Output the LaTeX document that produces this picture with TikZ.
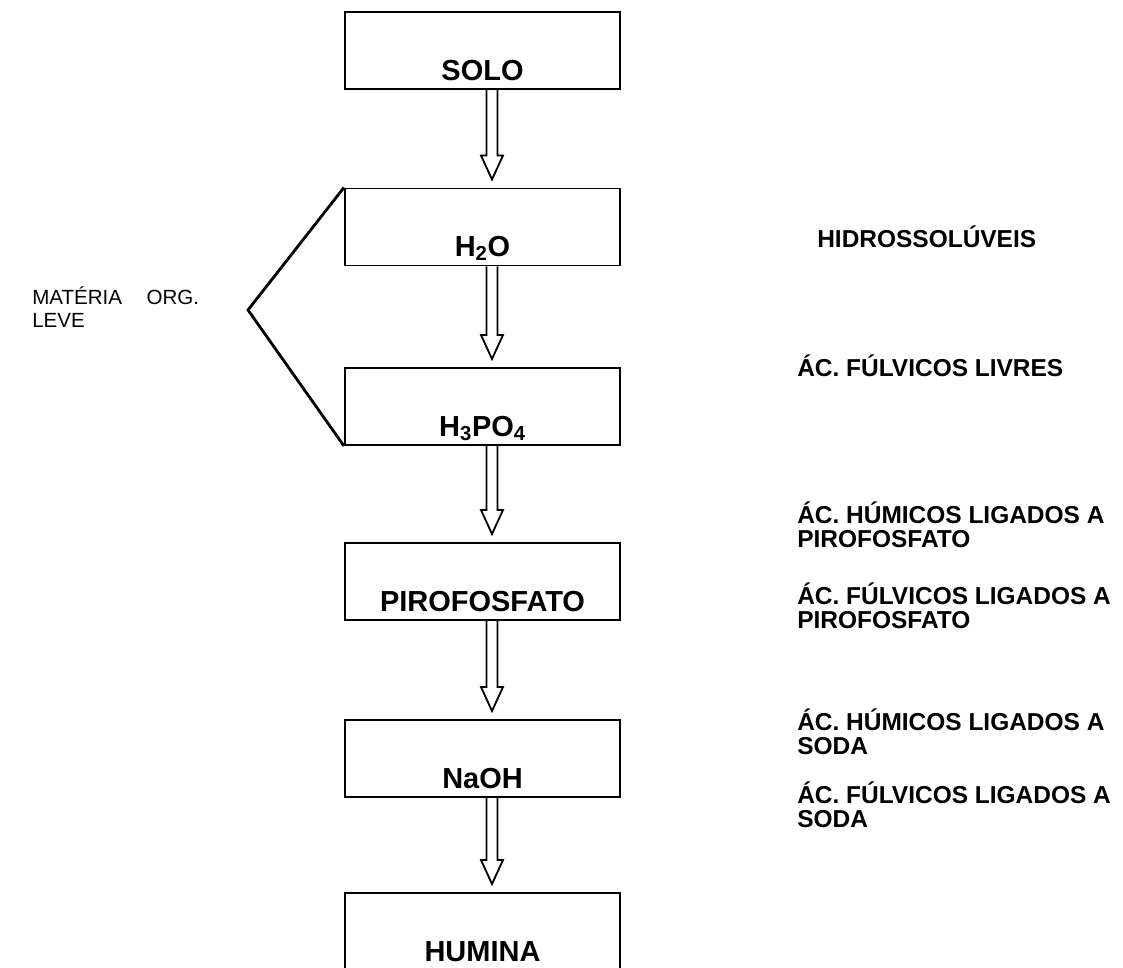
\documentclass[tikz,border=0pt]{standalone}
\usepackage{fontspec}
\setmainfont{Liberation Sans}
\usetikzlibrary{calc}

\begin{document}
\begin{tikzpicture}[x=0.025cm,y=-0.025cm,
    caixa/.style={draw,line width=1.4pt,minimum width=6.875cm,minimum height=1.925cm,
      inner sep=0pt,text height=1.475cm,text depth=0pt,
      font=\fontsize{20.6}{24}\selectfont\bfseries},
    fracao/.style={anchor=west,align=left,inner sep=0pt,
      font=\fontsize{17.4}{17.1}\selectfont\bfseries},
    seta/.style={line width=1.3pt,line join=miter}]
  \useasboundingbox (0,0) rectangle (1123,967);
  \newcommand{\passo}[2]{% from box, to box
    \draw[seta] ($(#1.south)+(4,0)$) -- ($(#2.north)+(4,-32)$) -- ($(#2.north)+(-1.5,-32)$)
      -- ($(#2.north)+(9.5,-8)$) -- ($(#2.north)+(20.5,-32)$) -- ($(#2.north)+(15,-32)$)
      -- ($(#1.south)+(15,0)$);}

  % extraction steps
  \node[caixa] (solo) at (482.5,50.5) {SOLO};
  \node[caixa] (agua) at (482.5,227) {H\textsubscript{2}O};
  \node[caixa] (acido) at (482.5,406.5) {H\textsubscript{3}PO\textsubscript{4}};
  \node[caixa] (piro) at (482.5,581.5) {PIROFOSFATO};
  \node[caixa] (soda) at (482.5,758.5) {NaOH};
  \node[caixa] (humina) at (482.5,931.5) {HUMINA};
  \passo{solo}{agua}
  \passo{agua}{acido}
  \passo{acido}{piro}
  \passo{piro}{soda}
  \passo{soda}{humina}

  % light organic matter
  \coordinate (vertice) at (248,310);
  \draw[line width=2pt] (agua.north west) -- (vertice) -- (acido.south west);
  \node[anchor=west,align=left,inner sep=0pt,font=\fontsize{14.6}{16.4}\selectfont] (leve)
    at (32,307) {MATÉRIA\hspace{1.2em}ORG.\\LEVE};

  % fractions
  \node[fracao] (hidro) at (817,237) {HIDROSSOLÚVEIS};
  \node[fracao] (livres) at (797,366) {ÁC. FÚLVICOS LIVRES};
  \node[fracao] (humpiro) at (797,525) {ÁC. HÚMICOS LIGADOS A\\PIROFOSFATO};
  \node[fracao] (fulpiro) at (797,606) {ÁC. FÚLVICOS LIGADOS A\\PIROFOSFATO};
  \node[fracao] (humsoda) at (797,732) {ÁC. HÚMICOS LIGADOS A\\SODA};
  \node[fracao] (fulsoda) at (797,805) {ÁC. FÚLVICOS LIGADOS A\\SODA};
\end{tikzpicture}
\end{document}
